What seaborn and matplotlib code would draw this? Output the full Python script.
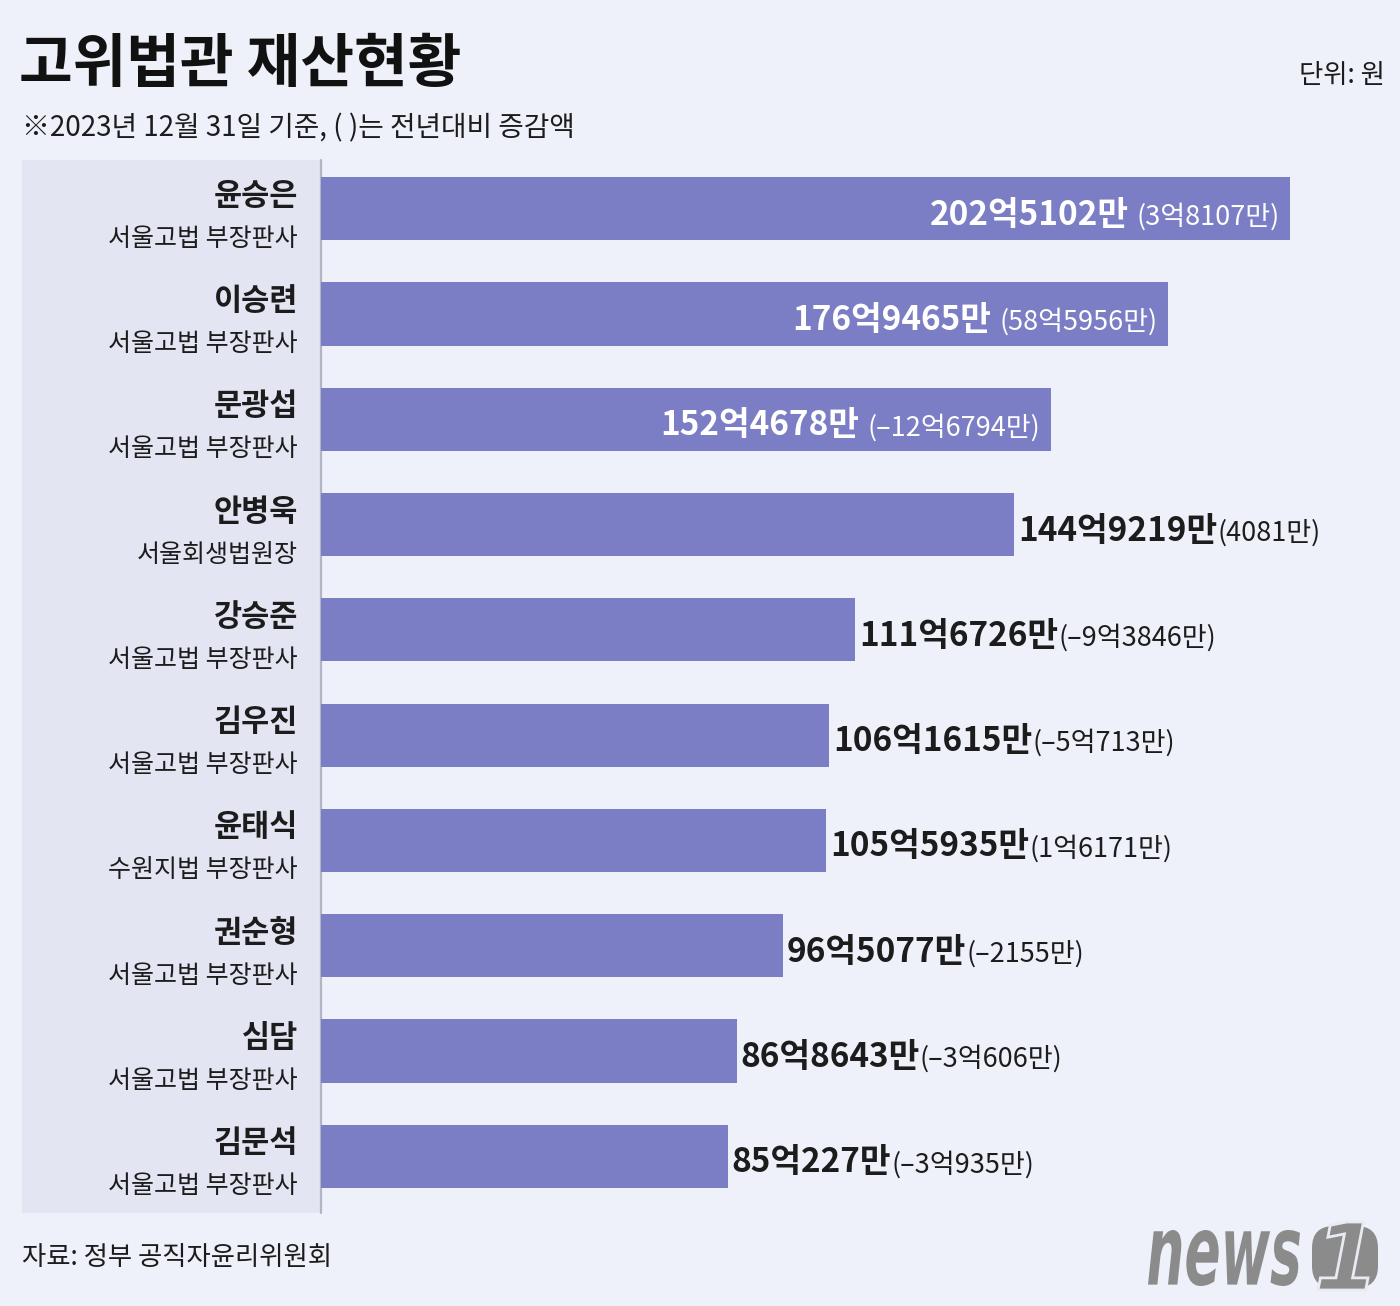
import matplotlib
matplotlib.use('Agg')
import matplotlib.pyplot as plt
import seaborn as sns
import pandas as pd
from matplotlib.patches import Rectangle, FancyBboxPatch, PathPatch
from matplotlib.lines import Line2D
from matplotlib.transforms import blended_transform_factory, Affine2D, IdentityTransform
from matplotlib.textpath import TextPath
from matplotlib.font_manager import FontProperties

# ---------------- data ----------------
names = ['윤승은', '이승련', '문광섭', '안병욱', '강승준', '김우진', '윤태식', '권순형', '심담', '김문석']
roles = ['서울고법 부장판사', '서울고법 부장판사', '서울고법 부장판사', '서울회생법원장',
         '서울고법 부장판사', '서울고법 부장판사', '수원지법 부장판사', '서울고법 부장판사',
         '서울고법 부장판사', '서울고법 부장판사']
assets = [202.5102, 176.9465, 152.4678, 144.9219, 111.6726, 106.1615, 105.5935, 96.5077, 86.8643, 85.0227]  # 억원
asset_labels = ['202억5102만', '176억9465만', '152억4678만', '144억9219만', '111억6726만',
                '106억1615만', '105억5935만', '96억5077만', '86억8643만', '85억227만']
change_labels = ['(3억8107만)', '(58억5956만)', '(–12억6794만)', '(4081만)', '(–9억3846만)',
                 '(–5억713만)', '(1억6171만)', '(–2155만)', '(–3억606만)', '(–3억935만)']

title = '고위법관 재산현황'
subtitle = '※2023년 12월 31일 기준, ( )는 전년대비 증감액'
unit = '단위: 원'
source = '자료: 정부 공직자윤리위원회'

# ---------------- style ----------------
sns.set_theme(style='white')
plt.rcParams['font.family'] = ['Noto Sans CJK KR', 'DejaVu Sans']

W, H = 1400, 1306
BG = '#eef1f9'
PANEL = '#e3e5f3'
BAR = '#7b7ec4'
DARK = '#1c1c1c'

fig = plt.figure(figsize=(W / 100, H / 100), dpi=100, facecolor=BG)


def fx(px):
    return px / W


def fy(py):
    return 1 - py / H


# left label panel
fig.patches.append(Rectangle((fx(22), fy(1213)), fx(320) - fx(22), fy(160) - fy(1213),
                             transform=fig.transFigure, facecolor=PANEL, edgecolor='none', zorder=-2))
fig.lines.append(Line2D([fx(320.5)] * 2, [fy(160), fy(1213)], transform=fig.transFigure,
                        color='#b3b5c4', lw=1.6, zorder=-1))

# bars axes
ax_left, ax_right = 321, 1400
row_top, row_bot = 156, 1209
row_px = (row_bot - row_top) / len(names)
ax = fig.add_axes([fx(ax_left), fy(row_bot), fx(ax_right) - fx(ax_left), fy(row_top) - fy(row_bot)])
ax.patch.set_alpha(0)
df = pd.DataFrame({'name': names, 'assets': assets})
sns.barplot(data=df, x='assets', y='name', orient='h', color=BAR, saturation=1,
            width=0.6, ax=ax, edgecolor='none', linewidth=0)
px_per_unit = 4.785
ax.set_xlim(0, (ax_right - ax_left) / px_per_unit)
ax.set_ylim(len(names) - 0.5, -0.5)
ax.axis('off')

# name / role labels
tr = blended_transform_factory(fig.transFigure, ax.transData)
for i, (n, r) in enumerate(zip(names, roles)):
    ax.text(fx(298), i - 4 / row_px, n, transform=tr, ha='right', va='baseline',
            fontsize=22, fontweight='bold', color=DARK, clip_on=False)
    ax.text(fx(298), i + 37 / row_px, r, transform=tr, ha='right', va='baseline',
            fontsize=18, fontweight='light', color=DARK, clip_on=False)

# value labels
for i, (v, a, c) in enumerate(zip(assets, asset_labels, change_labels)):
    yb = i + 16 / row_px
    if v > 150:
        t2 = ax.text(v - 10 / px_per_unit, yb, c, ha='right', va='baseline', color='white',
                     fontsize=19.5, fontweight='light')
        ax.annotate(a, xy=(0, yb), xycoords=(t2, 'data'), xytext=(-6, 0), textcoords='offset points',
                    ha='right', va='baseline', color='white', fontsize=24, fontweight='bold')
    else:
        t1 = ax.text(v + 4 / px_per_unit, yb, a, ha='left', va='baseline', color=DARK,
                     fontsize=24, fontweight='bold')
        ax.annotate(c, xy=(1, yb), xycoords=(t1, 'data'), xytext=(0, 0), textcoords='offset points',
                    ha='left', va='baseline', color=DARK, fontsize=19.5, fontweight='light')

# titles
fig.text(fx(19), fy(82), title, ha='left', va='baseline', fontsize=42, fontweight='heavy', color='#111111')
fig.text(fx(22), fy(136), subtitle, ha='left', va='baseline', fontsize=20, fontweight='light', color=DARK)
fig.text(fx(1385), fy(83), unit, ha='right', va='baseline', fontsize=19, fontweight='light', color=DARK)
fig.text(fx(22), fy(1265), source, ha='left', va='baseline', fontsize=19, fontweight='light', color=DARK)

# news1 logo
GREY = '#8b8b8b'
fp = FontProperties(family='DejaVu Sans', weight='bold', style='italic')
tp = TextPath((0, 0), 'news', size=100, prop=fp)
ext = tp.get_extents()
x0, x1, y0, y1 = 1148, 1300, 1230, 1286
sx = (x1 - x0) / ext.width
sy = (y1 - y0) / ext.height
trans = Affine2D().translate(-ext.x0, -ext.y0).scale(sx, sy).translate(x0, H - y1)
fig.patches.append(PathPatch(trans.transform_path(tp), facecolor=GREY, edgecolor='none',
                             transform=IdentityTransform(), zorder=5))
fig.patches.append(FancyBboxPatch((1312, H - 1288), 66, 62, boxstyle='round,pad=0,rounding_size=22',
                                  facecolor=GREY, edgecolor='none', transform=IdentityTransform(),
                                  mutation_aspect=1, zorder=5))
tp1 = TextPath((0, 0), '1', size=100, prop=fp)
e1 = tp1.get_extents()
bx0, bx1, by0, by1 = 1318, 1368, 1222, 1290
tr1 = Affine2D().translate(-e1.x0, -e1.y0).scale((bx1 - bx0) / e1.width, (by1 - by0) / e1.height).translate(bx0, H - by1)
fig.patches.append(PathPatch(tr1.transform_path(tp1), facecolor=GREY, edgecolor='#e9ebf2', lw=2,
                             transform=IdentityTransform(), zorder=6))

fig.savefig('out.png', dpi=100, facecolor=BG)
